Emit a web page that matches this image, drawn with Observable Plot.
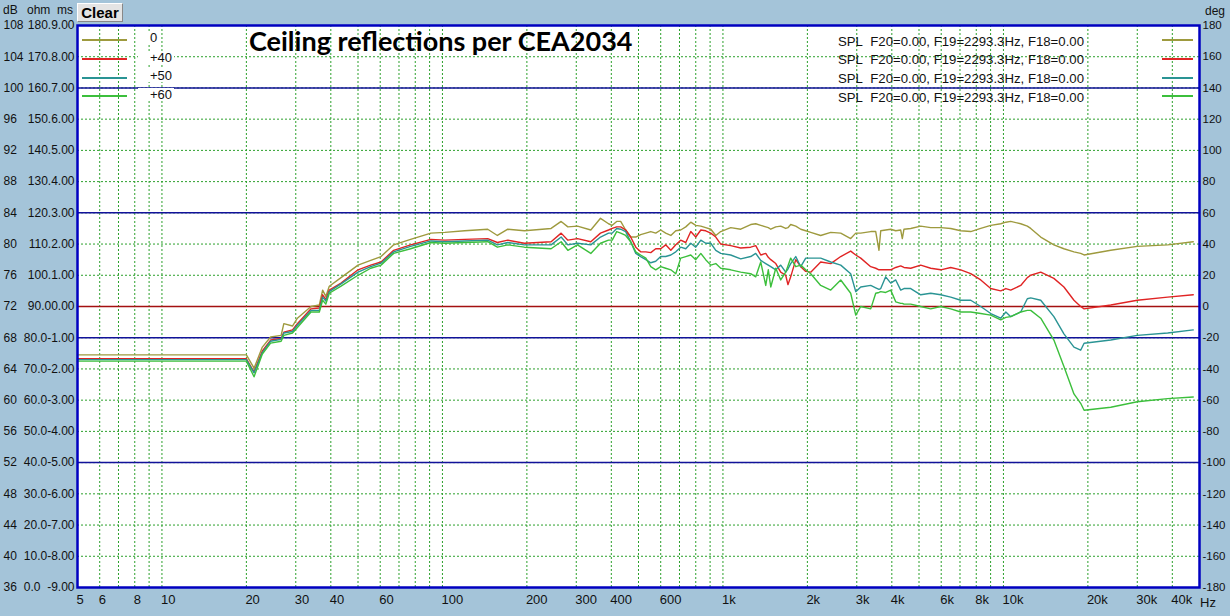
<!DOCTYPE html>
<html><head><meta charset="utf-8">
<script src="https://cdn.jsdelivr.net/npm/d3@7"></script>
<script src="https://cdn.jsdelivr.net/npm/@observablehq/plot@0.6"></script>
<style>
html,body{margin:0;padding:0;background:#a4c4d9;}
#wrap{position:relative;width:1230px;height:616px;overflow:hidden;font-family:"Liberation Sans",Arial,sans-serif;color:#111;}
#wrap svg{display:block;}
.ov{position:absolute;white-space:nowrap;line-height:1;}
.btn{position:absolute;left:77px;top:3px;width:46px;height:19px;background:#e4e4e4;border:1px solid #888;border-top-color:#fff;border-left-color:#fff;box-sizing:border-box;font:bold 15px "Liberation Sans",Arial,sans-serif;text-align:center;line-height:18px;color:#000;}
.sw{position:absolute;height:2px;}
.title{position:absolute;left:249px;top:24px;font:bold 27px Lato,"Open Sans",sans-serif;color:#000;white-space:nowrap;}
</style></head><body><div id="wrap"></div>
<script>
const freqs = [5,20,21.3,22.8,24.4,26.6,27.2,29.2,30.4,34,36.4,37.4,38.4,39.5,43.5,50,55.5,60.4,67,77,91,102,120,145,157,171,196,244,265,280,303,338,366,391,403,418,
  432,450,469,489,509,531,553,576,600,625,652,679,707,737,768,800,834,868,905,943,982,1066,1157,1256,1309,1364,1421,1451,1481,1543,1607,1674,1705,1744,1818,1894,1973,2056,2231,2423,2630,2854,2975,3099,3364,3505,3600,3652,3804,3965,4130,4303,4360,4420,4672,5071,5505,5976,6488,7043,7645,8300,9009,9781,10200,10617,11525,12166,12510,13580,15130,16430,17840,18850,19390,24130,30000,38500,47500];
const spl0 = [65.8,65.8,64.1,66.8,68.1,68.3,69.8,69.5,70.5,72.0,72.2,74.1,73.3,74.6,75.7,77.3,77.9,78.4,79.9,80.6,81.4,81.5,81.7,81.9,81.1,81.9,81.7,82.0,82.9,82.2,82.3,81.8,83.3,82.6,82.4,82.9,
  82.9,81.8,80.9,80.9,81.2,81.4,81.6,81.4,81.8,81.4,81.1,81.7,81.8,82.2,82.8,82.4,82.3,82.1,81.9,81.1,81.6,82.1,81.9,82.5,82.6,82.4,82.2,82.1,81.9,82.2,82.3,82.0,82.1,82.5,82.3,81.9,81.7,81.5,81.1,81.5,81.4,80.7,81.4,81.4,81.6,81.6,79.2,81.7,81.8,81.9,81.7,81.8,80.7,81.9,82.0,82.3,82.1,82.1,82.0,81.7,81.6,82.0,82.4,82.6,82.8,82.9,82.6,82.3,82.0,80.9,79.9,79.4,79.0,78.8,78.6,79.2,79.7,79.9,80.3];
const spl40 = [65.3,65.3,63.6,66.3,67.7,67.9,68.7,69.0,69.8,71.7,71.8,73.5,72.9,74.1,75.0,76.7,77.3,77.7,79.2,79.9,80.6,80.5,80.6,80.7,80.2,80.5,80.1,80.3,81.4,80.5,80.7,80.3,81.4,81.8,82.0,82.2,
  82.2,81.8,80.9,79.6,79.0,79.0,78.9,79.4,79.4,79.9,79.2,79.9,80.5,80.2,81.6,80.9,81.8,81.7,81.4,80.9,80.0,79.8,79.5,79.6,79.8,78.6,78.8,78.3,78.0,77.5,76.4,76.0,74.8,75.8,78.0,77.1,76.5,76.4,77.7,77.5,78.4,79.1,78.6,78.2,77.1,76.9,76.7,76.7,76.7,76.7,77.0,77.2,77.1,77.0,76.9,77.3,76.9,76.7,77.0,76.7,76.2,75.4,74.3,74.0,74.3,74.1,74.7,75.7,76.0,76.4,75.6,74.5,72.8,72.0,71.7,72.2,72.8,73.2,73.5];
const spl50 = [65.2,65.2,63.5,66.1,67.55,67.8,68.6,68.8,69.6,71.5,71.5,73.2,72.7,73.9,74.9,76.4,77.1,77.55,79.0,79.7,80.4,80.3,80.4,80.5,79.9,80.2,79.9,79.9,80.9,79.9,80.1,79.9,80.9,81.4,81.4,82.0,
  81.9,81.6,80.3,78.8,78.4,78.0,77.6,77.8,78.4,78.4,78.6,79.0,79.6,79.4,80.1,79.6,80.5,80.1,80.1,79.2,78.8,78.6,78.1,78.4,78.8,77.9,77.5,77.3,77.1,76.7,77.3,76.4,76.8,77.5,78.4,77.1,78.2,78.2,78.2,77.7,77.3,76.2,73.9,74.5,74.7,74.4,74.2,74.3,75.8,75.0,75.4,74.1,74.2,74.3,74.3,73.5,73.7,73.5,73.2,72.8,72.8,72.0,71.1,70.5,71.3,70.7,71.3,73.0,73.1,72.8,70.7,68.5,66.8,66.4,67.3,67.7,68.3,68.6,69.0];
const spl60 = [65.0,65.0,63.0,65.9,67.3,67.55,68.3,68.6,69.3,71.3,71.3,72.8,72.3,73.7,74.6,76.0,76.9,77.3,78.8,79.4,80.2,80.1,80.2,80.3,79.6,79.9,79.6,79.4,80.3,79.2,79.9,78.8,80.1,80.5,80.5,81.6,
  81.4,81.1,80.3,79.0,78.6,78.2,77.1,76.7,77.1,76.9,76.7,76.2,78.2,78.4,78.6,78.0,78.8,78.0,77.3,77.5,76.9,76.7,76.4,76.2,75.8,77.7,74.7,76.7,74.5,76.9,75.4,76.4,77.2,78.2,77.1,77.3,76.7,76.2,74.7,74.1,75.4,73.7,70.9,72.0,71.7,73.7,73.8,73.9,73.8,74.1,72.6,72.4,72.4,72.3,72.3,72.0,71.7,72.0,71.7,71.3,71.3,71.1,70.9,70.3,70.6,70.7,71.3,71.5,71.5,70.5,67.7,64.3,60.8,59.6,58.7,59.1,59.8,60.2,60.4];
const seriesNames = ["0","+40","+50","+60"];
const seriesColors = ["#9e9a3e","#e02424","#2a9494","#3cbf3c"];
const legendText = "SPL  F20=0.00, F19=2293.3Hz, F18=0.00";
const xTicks = [5,6,8,10,20,30,40,60,100,200,300,400,600,1000,2000,3000,4000,6000,8000,10000,20000,30000,40000];
const xTickLabels = ["5","6","8","10","20","30","40","60","100","200","300","400","600","1k","2k","3k","4k","6k","8k","10k","20k","30k","40k"];
const xGrid = [6,7,8,9,10,20,30,40,50,60,70,80,90,100,200,300,400,500,600,700,800,900,1000,2000,3000,4000,5000,6000,7000,8000,9000,10000,20000,30000,40000];
const dbTicks = [108,104,100,96,92,88,84,80,76,72,68,64,60,56,52,48,44,40,36];
const ohmMsLabels = ["180.9.00","170.8.00","160.7.00","150.6.00","140.5.00","130.4.00","120.3.00","110.2.00","100.1.00","90.00.00","80.0-1.00","70.0-2.00","60.0-3.00","50.0-4.00","40.0-5.00","30.0-6.00","20.0-7.00","10.0-8.00","0.0  -9.00"];
const degLabels = ["180","160","140","120","100","80","60","40","20","0","-20","-40","-60","-80","-100","-120","-140","-160","-180"];
const blueLines = [100,84,68,52];
const redLines = [72];

const seriesValues = [spl0, spl40, spl50, spl60];
const rows = [];
seriesValues.forEach((vals, s) => vals.forEach((v, i) => rows.push({f: freqs[i], db: v, s: seriesNames[s]})));

const gridStyle = {stroke: "#2ca02c", strokeDasharray: "2,2", strokeWidth: 1};
const chart = Plot.plot({
  width: 1230, height: 616,
  marginLeft: 77, marginRight: 31, marginTop: 25, marginBottom: 29,
  style: {background: "#a4c4d9", fontFamily: "'Liberation Sans', Arial, sans-serif", color: "#111"},
  x: {type: "log", domain: [5, 50000], axis: null},
  y: {domain: [36, 108], axis: null},
  color: {domain: seriesNames, range: seriesColors},
  marks: [
    Plot.frame({fill: "white", stroke: null}),
    Plot.ruleX(xGrid, gridStyle),
    Plot.ruleY(dbTicks, gridStyle),
    Plot.ruleY(blueLines, {stroke: "#12129a", strokeWidth: 1.5}),
    Plot.ruleY(redLines, {stroke: "#a41010", strokeWidth: 1.5}),
    Plot.line(rows, {x: "f", y: "db", z: "s", stroke: "s", strokeWidth: 1.4}),
    Plot.frame({stroke: "#0000c0", strokeWidth: 2.5}),
    Plot.text(xTicks, {x: d => d, text: (d, i) => xTickLabels[i], frameAnchor: "bottom", dy: 16, dx: -1, textAnchor: "start", fontSize: 13, fill: "#111"}),
    Plot.text(dbTicks, {y: d => d, text: d => String(d), frameAnchor: "left", dx: -74, textAnchor: "start", fontSize: 12, fill: "#111"}),
    Plot.text(dbTicks, {y: d => d, text: (d, i) => ohmMsLabels[i], frameAnchor: "left", dx: -3, textAnchor: "end", fontSize: 12, fill: "#111"}),
    Plot.text(dbTicks, {y: d => d, text: (d, i) => degLabels[i], frameAnchor: "right", dx: 3, textAnchor: "start", fontSize: 11.5, fill: "#111"})
  ]
});
const wrap = document.getElementById("wrap");
wrap.appendChild(chart);

function ov(html, css, cls) {
  const d = document.createElement("div");
  d.className = cls || "ov";
  d.innerHTML = html;
  Object.assign(d.style, css);
  wrap.appendChild(d);
  return d;
}
ov("dB", {left: "3px", top: "4px", fontSize: "12px"});
ov("ohm&nbsp;&nbsp;ms", {left: "27px", top: "4px", fontSize: "12px"});
ov("deg", {left: "1205px", top: "5px", fontSize: "12px"});
ov("Hz", {left: "1200px", top: "596px", fontSize: "13px"});
ov("Clear", {}, "btn");
ov("Ceiling reflections per CEA2034", {}, "title");

const leftLineY = [40, 58.5, 77.5, 96];
const leftTextY = [38, 58, 76, 95];
const rightTextY = [41.5, 60, 79, 97.5];
seriesNames.forEach((n, i) => {
  ov("", {left: "82px", top: (leftLineY[i] - 1) + "px", width: "45px", background: seriesColors[i]}, "sw");
  ov(n, {left: "138px", top: (leftTextY[i] - 7) + "px", fontSize: "13px", background: "white", padding: "0 2px 0 12px", textAlign: "left"});
  ov(legendText.replace(/ /g, "&nbsp;"), {left: "838px", top: (rightTextY[i] - 7) + "px", fontSize: "13.2px"});
  ov("", {left: "1162px", top: (leftLineY[i] - 1) + "px", width: "31px", background: seriesColors[i]}, "sw");
});
</script></body></html>
